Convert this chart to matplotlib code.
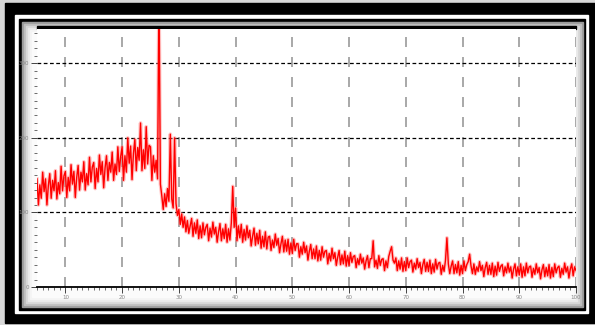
import matplotlib.pyplot as plt
from matplotlib.patches import Rectangle
import numpy as np

# XRD-like scan, 2theta from 5 to 100 deg in 0.25 deg steps
start_angle = 5.0
step = 0.25
counts_by_degree = [
    [145, 110, 137, 119],   # 5
    [154, 128, 145, 110],
    [136, 152, 119, 143],
    [129, 156, 118, 140],
    [125, 162, 129, 149],
    [155, 120, 147, 129],   # 10
    [164, 138, 155, 120],
    [147, 163, 130, 154],
    [141, 168, 130, 152],
    [137, 174, 141, 161],
    [167, 132, 159, 141],   # 15
    [177, 151, 168, 133],
    [160, 176, 143, 167],
    [154, 181, 143, 165],
    [151, 188, 155, 175],
    [188, 143, 176, 154],   # 20
    [200, 166, 189, 144],
    [179, 198, 156, 187],
    [170, 220, 156, 184],
    [159, 215, 165, 190],
    [188, 143, 176, 154],   # 25
    [170, 145, 400, 138],
    [122, 104, 125, 108],
    [132, 115, 205, 118],
    [106, 200, 112, 96],
    [104, 84, 98, 80],      # 30
    [94, 74, 89, 72],
    [82, 92, 68, 86],
    [72, 90, 65, 82],
    [66, 86, 70, 80],
    [84, 62, 79, 67],       # 35
    [87, 71, 80, 60],
    [74, 85, 62, 78],
    [65, 84, 60, 78],
    [63, 86, 135, 80],
    [106, 62, 82, 66],      # 40
    [84, 60, 77, 63],
    [82, 66, 76, 55],
    [68, 79, 56, 72],
    [58, 76, 52, 68],
    [54, 74, 51, 67],       # 45
    [68, 49, 63, 53],
    [71, 56, 65, 46],
    [58, 68, 47, 63],
    [48, 64, 44, 59],
    [45, 64, 49, 58],       # 50
    [58, 40, 54, 44],
    [60, 46, 55, 36],
    [48, 57, 38, 51],
    [38, 55, 35, 49],
    [36, 54, 40, 48],       # 55
    [49, 31, 45, 35],
    [52, 38, 46, 29],
    [40, 49, 30, 43],
    [31, 48, 28, 42],
    [29, 46, 33, 41],       # 60
    [42, 26, 38, 30],
    [44, 32, 39, 24],
    [35, 42, 26, 38],
    [38, 62, 27, 36],
    [25, 42, 29, 37],       # 65
    [38, 22, 35, 26],
    [41, 48, 54, 36],
    [32, 39, 22, 35],
    [24, 39, 21, 34],
    [22, 39, 26, 34],       # 70
    [36, 20, 32, 24],
    [38, 26, 33, 18],
    [30, 37, 21, 33],
    [21, 36, 18, 31],
    [20, 37, 24, 32],       # 75
    [33, 17, 29, 21],
    [36, 66, 31, 18],
    [28, 35, 18, 30],
    [19, 34, 16, 29],
    [18, 35, 22, 30],       # 80
    [34, 44, 28, 18],
    [31, 17, 27, 21],
    [34, 22, 29, 14],
    [26, 33, 17, 29],
    [17, 32, 14, 28],       # 85
    [16, 33, 21, 28],
    [30, 15, 27, 19],
    [32, 20, 27, 12],
    [24, 31, 15, 27],
    [16, 31, 13, 27],       # 90
    [15, 32, 19, 27],
    [28, 13, 25, 17],
    [31, 19, 26, 11],
    [23, 30, 14, 26],
    [15, 30, 12, 26],       # 95
    [14, 31, 19, 26],
    [28, 13, 25, 17],
    [32, 20, 27, 12],
    [24, 31, 15, 27],
    [22],                   # 100
]
x_ticks = [10, 20, 30, 40, 50, 60, 70, 80, 90, 100]
y_ticks = [0, 100, 200, 300]

counts = [v for row in counts_by_degree for v in row]
two_theta = start_angle + step * np.arange(len(counts))

W, H = 595, 325
fig = plt.figure(figsize=(W / 100, H / 100), dpi=100)

# picture frame drawn in pixel coords on a background axes
bg = fig.add_axes([0, 0, 1, 1])
bg.set_xlim(0, W)
bg.set_ylim(H, 0)
bg.axis('off')
bg.add_patch(Rectangle((0, 0), W, H, color='#d8d8d8'))
bg.add_patch(Rectangle((5, 3), 590, 320, color='black'))
bg.add_patch(Rectangle((15, 15), 573, 298, color='white'))
bg.add_patch(Rectangle((19, 19), 566, 291, color='black'))
shades = ['#9a9a9a', '#bdbdbd', '#d6d6d6', '#e8e8e8', '#f4f4f4', '#fbfbfb']
for i, c in enumerate(shades):
    d = 22 + 2 * i
    bg.add_patch(Rectangle((d, d), 561 - 4 * i, 285 - 4 * i, color=c))
# thick black rule on top of the plot area
bg.add_patch(Rectangle((37, 26), 539, 3, color='black'))

ax = fig.add_axes([37 / W, (H - 287) / H, 539 / W, 258 / H])
# soft pink halo under the trace, like the blurred original
ax.plot(two_theta, counts, color='#ff8080', linewidth=2.6, alpha=0.45, zorder=2)
ax.plot(two_theta, counts, color='#ff0000', linewidth=1.0, zorder=3)

ax.set_xlim(5, 100)
ax.set_ylim(0, 346)
ax.set_xticks(x_ticks)
ax.set_xticks(np.arange(5, 101, 1), minor=True)
ax.set_yticks(y_ticks)
ax.set_yticks(np.arange(0, 346, 10), minor=True)
ax.tick_params(axis='both', which='major', labelsize=4, labelcolor='#888888',
               color='#444444', length=4, width=0.7, direction='out', pad=2)
ax.tick_params(axis='both', which='minor', color='#555555', length=2.5, width=0.6,
               direction='out')

ax.xaxis.grid(True, color='#9a9a9a', linestyle=(0, (6, 6)), linewidth=1.2)
ax.yaxis.grid(True, color='black', linestyle=(0, (3, 2)), linewidth=0.9)
ax.set_axisbelow(True)

ax.spines['top'].set_visible(False)
ax.spines['right'].set_visible(False)
ax.spines['left'].set_visible(False)
ax.spines['bottom'].set_linewidth(1.3)

plt.savefig('out.png', dpi=100)
